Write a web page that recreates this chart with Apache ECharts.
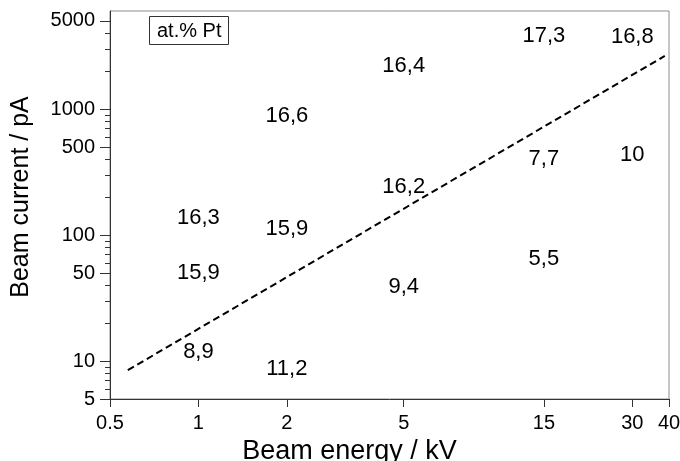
<!DOCTYPE html>
<html><head><meta charset="utf-8">
<script src="https://cdn.jsdelivr.net/npm/echarts@6/dist/echarts.min.js"></script>
<style>html,body{margin:0;padding:0;background:#fff}#c{width:680px;height:461px}</style>
</head><body><div id="c"></div>
<script>
// Beam energy (kV), beam current (pA) and measured at.% Pt text for each condition
const energies = [1, 1, 1, 2, 2, 2, 5, 5, 5, 15, 15, 15, 30, 30];
const currents = [137, 50, 11.8, 880, 111, 8.7, 2200, 239, 38.6, 3780, 400, 65, 3720, 432];
const ptLabels = ['16,3', '15,9', '8,9', '16,6', '15,9', '11,2', '16,4', '16,2', '9,4', '17,3', '7,7', '5,5', '16,8', '10'];
// dashed boundary line end points
const lineEnergies = [0.575, 38.7];
const lineCurrents = [8.47, 2640];
// ticks
const xTickValues = [0.5, 1, 2, 5, 15, 30, 40];
const yLabelValues = [5, 10, 50, 100, 500, 1000, 5000];
const yMinorTickValues = [5, 6, 7, 8, 9, 10, 20, 30, 40, 50, 60, 70, 80, 90, 100, 200, 300, 400, 500, 600, 700, 800, 900, 1000, 2000, 3000, 4000, 5000];

const font = '"Liberation Sans", Arial, sans-serif';
const chart = echarts.init(document.getElementById('c'), null, {renderer: 'canvas'});
const axisColor = '#333';
chart.setOption({
  animation: false,
  backgroundColor: '#fff',
  textStyle: {fontFamily: font},
  grid: {left: 110, right: 11, top: 11, bottom: 62, show: true, borderColor: '#8c8c8c', borderWidth: 1,
         containLabel: false, outerBoundsMode: 'none'},
  title: {
    text: 'at.% Pt', left: 149, top: 16, borderColor: '#333', borderWidth: 1, padding: [5, 7, 4, 8],
    textStyle: {fontFamily: font, fontSize: 20, fontWeight: 'normal', color: '#000'}
  },
  xAxis: {
    type: 'log', logBase: 10, min: 0.5, max: 40,
    name: 'Beam energy / kV', nameLocation: 'middle', nameGap: 38,
    nameTextStyle: {fontFamily: font, fontSize: 27, color: '#000', padding: [0, 80, 0, 0]},
    axisLine: {show: true, onZero: false, lineStyle: {color: axisColor, width: 1}},
    axisTick: {show: true, length: 8, customValues: xTickValues, lineStyle: {color: axisColor}},
    axisLabel: {customValues: xTickValues, margin: 14, fontFamily: font, fontSize: 20, color: '#000', formatter: v => String(v)},
    splitLine: {show: false}, minorTick: {show: false}
  },
  yAxis: [{
    type: 'log', logBase: 10, min: 5, max: 6000, position: 'left',
    name: 'Beam current / pA', nameLocation: 'middle', nameGap: 76,
    nameTextStyle: {fontFamily: font, fontSize: 25, color: '#000', padding: [0, 0, 0, 16]},
    axisLine: {show: true, onZero: false, lineStyle: {color: axisColor, width: 1}},
    axisTick: {show: true, length: 10, customValues: yLabelValues, lineStyle: {color: axisColor}},
    axisLabel: {customValues: yLabelValues, margin: 15, fontFamily: font, fontSize: 20, color: '#000', formatter: v => String(v)},
    splitLine: {show: false}, minorTick: {show: false}
  }, {
    type: 'log', logBase: 10, min: 5, max: 6000, position: 'left', offset: 0,
    axisLine: {show: false},
    axisTick: {show: true, length: 5, customValues: yMinorTickValues, lineStyle: {color: axisColor}},
    axisLabel: {show: false},
    splitLine: {show: false}, minorTick: {show: false}
  }],
  series: [{
    type: 'scatter', yAxisIndex: 0,
    data: energies.map((e, i) => [e, currents[i], ptLabels[i]]),
    symbolSize: 1, itemStyle: {color: 'rgba(0,0,0,0)'},
    label: {show: true, position: 'inside', formatter: p => p.data[2], fontFamily: font, fontSize: 22,
            color: '#000', textBorderWidth: 0, opacity: 1}
  }, {
    type: 'line', yAxisIndex: 0,
    data: lineEnergies.map((x, i) => [x, lineCurrents[i]]),
    symbol: 'none', lineStyle: {type: [7, 4], width: 2, color: '#000'}
  }]
});
</script></body></html>
